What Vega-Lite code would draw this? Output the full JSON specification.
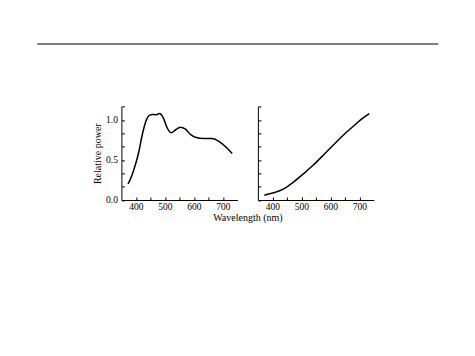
{
  "$schema": "https://vega.github.io/schema/vega-lite/v6.json",
  "padding": {"left": 36.4, "top": 42.4, "right": 0, "bottom": 0},
  "background": "white",
  "datasets": {
    "daylight": [
      {"nm": 373, "p": 0.2},
      {"nm": 382, "p": 0.27},
      {"nm": 392, "p": 0.37},
      {"nm": 410, "p": 0.6},
      {"nm": 421, "p": 0.8},
      {"nm": 433, "p": 0.97},
      {"nm": 444, "p": 1.05},
      {"nm": 456, "p": 1.07},
      {"nm": 468, "p": 1.065},
      {"nm": 482, "p": 1.08},
      {"nm": 494, "p": 1.03},
      {"nm": 508, "p": 0.9},
      {"nm": 522, "p": 0.84},
      {"nm": 536, "p": 0.875},
      {"nm": 553, "p": 0.91},
      {"nm": 571, "p": 0.885},
      {"nm": 588, "p": 0.82},
      {"nm": 605, "p": 0.785},
      {"nm": 634, "p": 0.77},
      {"nm": 663, "p": 0.77},
      {"nm": 691, "p": 0.72},
      {"nm": 714, "p": 0.65},
      {"nm": 732, "p": 0.58}
    ],
    "tungsten": [
      {"nm": 372, "p": 0.06},
      {"nm": 404, "p": 0.09},
      {"nm": 439, "p": 0.14},
      {"nm": 473, "p": 0.225},
      {"nm": 508, "p": 0.33},
      {"nm": 542, "p": 0.44},
      {"nm": 577, "p": 0.565},
      {"nm": 611, "p": 0.69},
      {"nm": 646, "p": 0.815},
      {"nm": 680, "p": 0.925},
      {"nm": 700, "p": 0.99},
      {"nm": 734, "p": 1.08}
    ],
    "page": [{"item": "header rule"}]
  },
  "config": {
    "view": {"stroke": null},
    "font": "Liberation Serif",
    "axis": {
      "grid": false,
      "domainColor": "#000",
      "tickColor": "#000",
      "labelColor": "#000",
      "titleColor": "#000",
      "labelFont": "Liberation Serif",
      "titleFont": "Liberation Serif",
      "labelFontSize": 9.5,
      "titleFontSize": 10,
      "titleFontWeight": "normal",
      "tickSize": -3,
      "labelOverlap": false,
      "labelFlush": false,
      "domainWidth": 1,
      "tickWidth": 1
    },
    "axisX": {"labelPadding": 5},
    "axisY": {"labelPadding": 7}
  },
  "hconcat": [
    {
      "width": 116,
      "height": 93.6,
      "resolve": {"axis": {"x": "independent", "y": "independent"}},
      "layer": [
        {
          "data": {"name": "daylight"},
          "mark": {"type": "line", "color": "#000", "strokeWidth": 1.5, "interpolate": "monotone"},
          "encoding": {
            "x": {
              "field": "nm", "type": "quantitative",
              "scale": {"domain": [350, 750], "nice": false, "zero": false},
              "axis": {
                "values": [400, 450, 500, 550, 600, 650, 700],
                "labelExpr": "datum.value % 100 == 0 ? datum.label : ''",
                "labelOverlap": false,
                "labelBound": false,
                "title": "Wavelength (nm)",
                "titleX": 126,
                "titlePadding": 1.5
              }
            },
            "y": {
              "field": "p", "type": "quantitative",
              "scale": {"domain": [0, 1.17], "nice": false},
              "axis": {
                "values": [0, 0.16667, 0.33333, 0.5, 0.66667, 0.83333, 1, 1.16667],
                "labelExpr": "abs(datum.value * 2 - round(datum.value * 2)) < 0.01 ? format(datum.value, '.1f') : ''",
                "labelOverlap": false,
                "labelBound": false,
                "title": "Relative power",
                "titlePadding": 3
              }
            }
          }
        },
        {
          "data": {"name": "page"},
          "mark": {"type": "rule", "color": "#000", "strokeWidth": 1.2},
          "encoding": {
            "x": {"datum": 60.3, "type": "quantitative", "axis": null},
            "x2": {"datum": 1443},
            "y": {"datum": 1.95, "type": "quantitative", "axis": null}
          }
        }
      ]
    },
    {
      "width": 116,
      "height": 93.6,
      "data": {"name": "tungsten"},
      "mark": {"type": "line", "color": "#000", "strokeWidth": 1.5, "interpolate": "monotone"},
      "encoding": {
        "x": {
          "field": "nm", "type": "quantitative",
          "scale": {"domain": [350, 750], "nice": false, "zero": false},
          "axis": {
            "values": [400, 450, 500, 550, 600, 650, 700],
            "labelExpr": "datum.value % 100 == 0 ? datum.label : ''",
            "labelOverlap": false,
            "title": null
          }
        },
        "y": {
          "field": "p", "type": "quantitative",
          "scale": {"domain": [0, 1.17], "nice": false},
          "axis": {
            "values": [0, 0.16667, 0.33333, 0.5, 0.66667, 0.83333, 1, 1.16667],
            "labels": false,
            "title": null
          }
        }
      }
    }
  ],
  "spacing": 20.5,
  "bounds": "flush"
}
